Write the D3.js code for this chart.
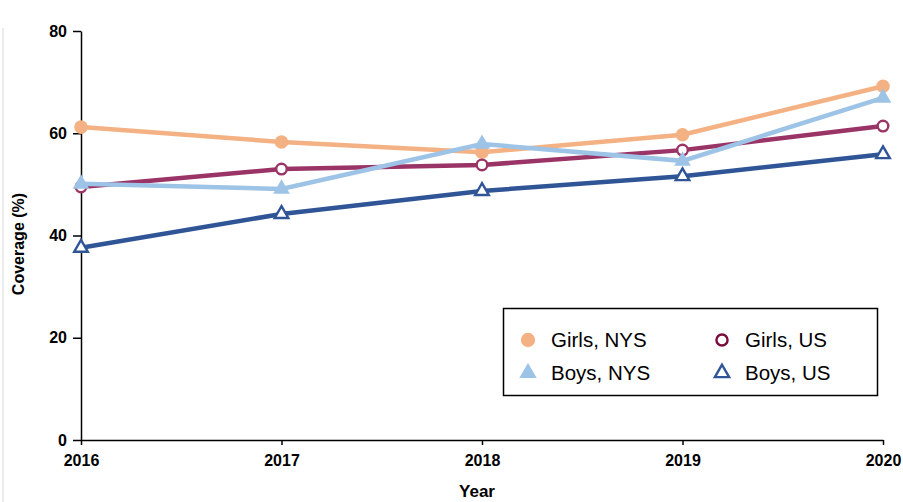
<!DOCTYPE html>
<html><head><meta charset="utf-8">
<script src="https://cdn.jsdelivr.net/npm/d3@7"></script>
<style>body{margin:0;background:#fff}svg{display:block;font-family:"Liberation Sans",Arial,sans-serif}</style>
</head><body><svg id="c" width="903" height="502"></svg>
<script>
const years = [2016, 2017, 2018, 2019, 2020];
const girlsNYS = [61.2, 58.3, 56.3, 59.7, 69.2];
const boysNYS = [50.1, 49.1, 57.9, 54.6, 66.9];
const girlsUS = [49.5, 53.0, 53.8, 56.7, 61.4];
const boysUS = [37.6, 44.2, 48.7, 51.6, 55.9];
const yTicks = [0, 20, 40, 60, 80];

const svg = d3.select("#c");
const x = d3.scaleLinear().domain([2016, 2020]).range([81, 883]);
const y = d3.scaleLinear().domain([0, 80]).range([440, 31]);

svg.append("line").attr("x1",3).attr("x2",3).attr("y1",28).attr("y2",502).attr("stroke","#e6e6e6").attr("stroke-width",1.5);

const yAx = svg.append("g").attr("transform","translate(81,0)")
  .call(d3.axisLeft(y).tickValues(yTicks).tickSize(8).tickSizeOuter(0).tickFormat(d3.format("d")));
const xAx = svg.append("g").attr("transform","translate(0,440)")
  .call(d3.axisBottom(x).tickValues(years).tickSize(5).tickSizeOuter(0).tickFormat(d3.format("d")));
[yAx,xAx].forEach(g=>{
  g.selectAll("path,line").attr("stroke","#000").attr("stroke-width",1.5);
  g.selectAll("text").attr("fill","#000").style("font-size","16px").style("font-weight","bold");
});
yAx.selectAll("text").attr("x",-14);
xAx.selectAll("text").attr("y",15);

svg.append("text").attr("transform","translate(24,244) rotate(-90)").attr("text-anchor","middle")
  .style("font-size","16px").style("font-weight","bold").text("Coverage (%)");
svg.append("text").attr("x",477).attr("y",497).attr("text-anchor","middle")
  .style("font-size","17px").style("font-weight","bold").text("Year");

const series = [
  {name:"Girls, NYS", vals:girlsNYS, color:"#F4B183", mark:"circle", fill:true, legColor:"#F4B183"},
  {name:"Boys, NYS", vals:boysNYS, color:"#9DC3E6", mark:"triangle", fill:true, legColor:"#9DC3E6"},
  {name:"Girls, US", vals:girlsUS, color:"#9B3466", mark:"circle", fill:false, legColor:"#7A0A3C"},
  {name:"Boys, US", vals:boysUS, color:"#2F5597", mark:"triangle", fill:false, legColor:"#2F5597"}
];
const line = d3.line().x((d,i)=>x(years[i])).y(d=>y(d));
const drawOrder = [0,2,1,3];
function marker(g, s, cx, cy, col, scale){
  const fill = s.fill ? col : "#fff";
  if(s.mark==="circle"){
    g.append("circle").attr("cx",cx).attr("cy",cy).attr("r",(s.fill?6.8:5.3)*scale)
      .attr("fill",fill).attr("stroke",col).attr("stroke-width",s.fill?0:2.4);
  } else {
    const sym = d3.symbol().type(d3.symbolTriangle).size((s.fill?120:80)*scale*scale);
    g.append("path").attr("d",sym()).attr("transform",`translate(${cx},${cy})`)
      .attr("fill",fill).attr("stroke",col).attr("stroke-width",s.fill?0:2.4);
  }
}
drawOrder.forEach(k=>{
  const s = series[k];
  const g = svg.append("g");
  g.append("path").datum(s.vals).attr("d",line).attr("fill","none").attr("stroke",s.color).attr("stroke-width",4.5);
  s.vals.forEach((v,i)=>marker(g,s,x(years[i]),y(v),s.color,1));
});

const leg = svg.append("g");
leg.append("rect").attr("x",503.5).attr("y",308.5).attr("width",374).attr("height",87).attr("fill","#fff").attr("stroke","#000").attr("stroke-width",1.5);
const legPos = [[528,340],[528,373],[722,340],[722,373]];
series.forEach((s,i)=>{
  const [lx,ly] = legPos[i];
  marker(leg,s,lx,ly,s.legColor,1.05);
  leg.append("text").attr("x",lx+23).attr("y",ly+7).style("font-size","20.5px").attr("fill","#000").text(s.name);
});
</script></body></html>
